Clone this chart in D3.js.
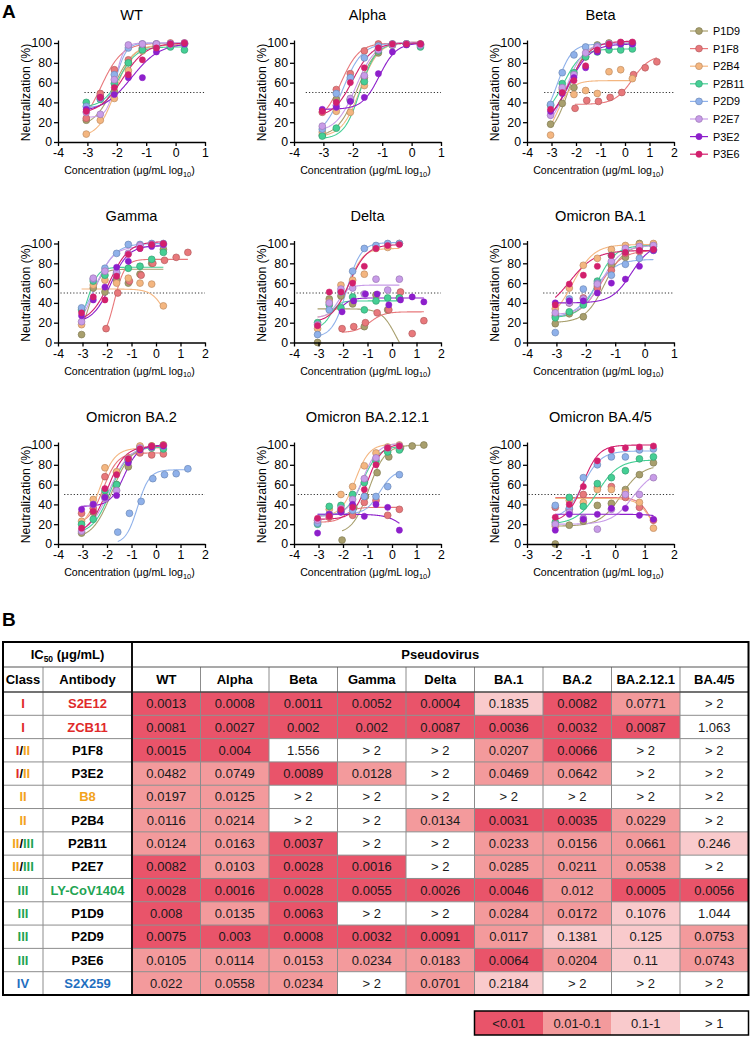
<!DOCTYPE html>
<html><head><meta charset="utf-8">
<script src="https://cdn.jsdelivr.net/npm/d3@7"></script>
<style>
body{margin:0;background:#fff;}
svg text{font-family:"Liberation Sans",Arial,Helvetica,sans-serif;}
</style></head><body>
<svg id="fig" width="750" height="1039"></svg>
<script>
// ---------------- DATA: panel A ----------------
const antibodies = ["P1D9","P1F8","P2B4","P2B11","P2D9","P2E7","P3E2","P3E6"];
const seriesColors = ["#a89f6d","#e8787b","#f4b680","#45cf95","#8fb1ea","#c89ce8","#8d1fcb","#d2206d"];
// log10 concentrations (3-fold dilutions from 2 and from 20 ug/mL)
const doseLow  = [-3.038,-2.561,-2.084,-1.607,-1.130,-0.653,-0.176,0.301];
const doseHigh = [-2.038,-1.561,-1.084,-0.607,-0.130,0.347,0.824,1.301];

const panelTitles = ["WT","Alpha","Beta","Gamma","Delta","Omicron BA.1","Omicron BA.2","Omicron BA.2.12.1","Omicron BA.4/5"];
const panelXMin = [-4,-4,-4,-4,-4,-4,-4,-4,-3];
const panelXMax = [1,1,2,2,2,1,2,2,2];
const refLineStart = [-3.1,-3.6,-3.3,-3.9,-3.9,-3.45,-3.75,-3.85,-2.95];

// which dilution series each antibody used in each panel (L = from 2 ug/mL, H = from 20 ug/mL)
const wtDose    = ["L","L","L","L","L","L","L","L"];
const alphaDose = ["L","L","L","L","L","L","L","L"];
const betaDose  = ["L","H","L","L","L","L","L","L"];
const gammaDose = ["L","H","L","L","L","L","L","L"];
const deltaDose = ["L","H","L","L","L","L","H","L"];
const ba1Dose   = ["L","L","L","L","L","L","L","L"];
const ba2Dose   = ["L","L","L","L","H","L","L","L"];
const ba2121Dose= ["H","L","L","L","L","L","L","L"];
const ba45Dose  = ["H","H","H","H","H","H","H","H"];

// neutralization (%) per antibody, in the order of `antibodies`
const wtNeut = [
 [22,46,51,80,94,97,97,99],[24,49,73,83,95,99,100,100],[8,22,44,72,92,97,98,99],[40,43,59,80,93,96,96,93],
 [36,44,68,95,99,99,99,99],[30,28,63,98,99,99,99,100],[33,45,48,65,65,91,99,99],[31,45,55,68,83,95,99,100]];
const alphaNeut = [
 [7,43,43,65,90,98,99,99],[30,53,69,92,99,99,99,99],[10,31,30,57,94,98,99,98],[6,14,42,61,92,98,99,96],
 [13,49,65,85,97,99,99,98],[16,37,44,67,93,98,99,98],[33,35,41,45,69,91,98,99],[31,40,60,75,95,99,99,99]];
const betaNeut = [
 [18,39,55,86,98,100,100,100],[34,42,41,45,50,68,75,81],[7,53,48,52,49,71,73,64],[37,59,70,86,91,93,93,94],
 [38,70,88,96,97,99,99,99],[27,55,68,90,96,99,100,100],[31,49,65,75,91,97,99,99],[33,50,62,77,93,99,101,101]];
const gammaNeut = [
 [8,55,51,63,60,69,80,94],[14,50,62,68,80,83,86,91],[18,58,63,60,65,60,59,37],[33,62,68,70,75,77,84,91],
 [35,64,75,90,99,99,100,100],[21,65,72,71,90,98,99,99],[27,43,56,76,82,95,97,99],[30,46,43,67,89,95,99,100]];
const deltaNeut = [
 [0,44,47,39,16,48,33,45],[14,16,20,30,33,51,9,22],[14,41,58,63,69,95,96,100],[20,38,35,46,33,42,45,45],
 [8,33,51,72,95,98,100,100],[18,40,54,55,49,64,53,64],[31,42,49,49,38,43,46,41],[17,51,51,60,77,95,98,99]];
const ba1Neut = [
 [19,29,26,57,78,86,100,99],[27,40,45,55,73,90,92,94],[34,55,78,85,94,98,99,100],[25,31,38,62,88,92,96,97],
 [10,44,54,60,68,79,85,93],[30,40,44,59,82,95,97,98],[40,42,42,50,60,64,77,93],[38,59,68,77,88,91,93,94]];
const ba2Neut = [
 [11,32,48,60,78,98,99,100],[31,36,68,72,85,92,90,91],[23,45,77,73,87,99,99,100],[20,25,54,60,85,96,97,96],
 [null,12,31,43,66,70,71,76],[13,40,46,54,86,97,98,99],[35,40,47,49,82,95,98,99],[16,33,56,70,86,96,99,100]];
const ba2121Neut = [
 [4,37,48,72,88,97,99,100],[24,27,33,29,42,44,29,35],[22,35,50,58,79,92,98,100],[20,38,39,50,62,84,93,95],
 [21,30,33,34,48,48,58,70],[24,30,36,45,66,87,97,99],[11,30,32,40,28,40,37,14],[26,28,35,37,55,80,97,99]];
const ba45Neut = [
 [0,19,23,39,41,55,70,82],[37,35,50,57,58,47,37,24],[18,44,42,55,55,52,42,16],[22,47,38,61,67,74,86,88],
 [39,36,67,80,88,88,95,96],[20,32,26,15,35,50,50,67],[14,30,25,30,36,36,29,25],[27,40,58,84,95,97,98,99]];

// fitted 4-parameter logistic curves: [bottom, top, logIC50, hill]
const wtFit = [[15,98,-2.1,1.3],[10,100,-2.55,1.2],[5,98,-2.05,1.5],[35,96,-1.9,1.5],[35,100,-2.0,2.5],[25,100,-2.05,3],[30,100,-1.5,0.9],[28,100,-1.8,1.1]];
const alphaFit = [[5,101,-1.85,1.3],[20,100,-2.4,1.4],[5,101,-1.75,1.4],[3,100,-1.75,1.6],[5,100,-2.35,1.3],[10,101,-1.9,1.3],[33,100,-1.1,1.5],[25,100,-2.0,1.3]];
const betaFit = [[5,100,-2.3,1.3],[38,88,0.3,1.2],[0,62,-2.75,1.5],[25,94,-2.5,1.2],[20,99,-2.75,1.5],[10,100,-2.4,1.2],[15,99,-2.3,1.0],[15,102,-2.3,1.0]];
const gammaFit = [[5,74,-2.7,2],[0,84,-1.7,2],[54,0,0.45,1.5],[10,76,-2.8,2],[15,100,-2.45,1.1],[10,97,-2.5,1.2],[20,98,-1.85,1.2],[20,102,-1.9,1.1]];
const deltaFit = [[34,-20,0.15,1.5],[10,31,-0.9,1.5],[25,95,-1.75,1.5],[15,42,-2.5,2.5],[5,101,-1.85,1.5],[25,58,-2.2,2],[25,45,-2.1,2],[20,99,-1.75,1.2]];
const ba1Fit = [[20,99,-1.35,1.3],[25,93,-1.5,1.2],[20,99,-2.45,1.2],[25,98,-1.6,1.4],[25,84,-1.7,1.2],[28,98,-1.45,1.3],[40,100,-0.45,1.3],[30,93,-2.55,1.0]];
const ba2Fit = [[5,100,-1.8,1.1],[20,92,-2.15,1.5],[15,97,-2.3,1.4],[10,98,-1.85,1.2],[0,75,-0.75,1.8],[10,99,-1.9,1.1],[38,100,-1.3,1.5],[10,99,-2.0,1.2]];
const ba2121Fit = [[10,100,-0.95,1.3],[22,37,-1.9,2],[28,101,-1.5,1.5],[28,99,-1.2,1.3],[30,75,-0.5,1.5],[28,102,-1.2,1.4],[30,0,0.6,1.2],[25,101,-1.0,1.5]];
const ba45Fit = [[18,80,0.2,1.2],[47,0,1.25,2],[46,0,1.25,1.8],[20,85,-0.6,1.2],[25,94,-1.1,1.4],[20,75,0.6,1.2],[30,0,2.2,1.5],[22,100,-1.1,1.6]];

// ---------------- DATA: panel B ----------------
const variants = ["WT","Alpha","Beta","Gamma","Delta","BA.1","BA.2","BA.2.12.1","BA.4/5"];
const tableClasses = ["I","I","I/II","I/II","II","II","II/III","II/III","III","III","III","III","IV"];
const tableAntibodies = ["S2E12","ZCB11","P1F8","P3E2","B8","P2B4","P2B11","P2E7","LY-CoV1404","P1D9","P2D9","P3E6","S2X259"];
const ic50 = [
 ["0.0013","0.0008","0.0011","0.0052","0.0004","0.1835","0.0082","0.0771","> 2"],
 ["0.0081","0.0027","0.002","0.002","0.0087","0.0036","0.0032","0.0087","1.063"],
 ["0.0015","0.004","1.556","> 2","> 2","0.0207","0.0066","> 2","> 2"],
 ["0.0482","0.0749","0.0089","0.0128","> 2","0.0469","0.0642","> 2","> 2"],
 ["0.0197","0.0125","> 2","> 2","> 2","> 2","> 2","> 2","> 2"],
 ["0.0116","0.0214","> 2","> 2","0.0134","0.0031","0.0035","0.0229","> 2"],
 ["0.0124","0.0163","0.0037","> 2","> 2","0.0233","0.0156","0.0661","0.246"],
 ["0.0082","0.0103","0.0028","0.0016","> 2","0.0285","0.0211","0.0538","> 2"],
 ["0.0028","0.0016","0.0028","0.0055","0.0026","0.0046","0.012","0.0005","0.0056"],
 ["0.008","0.0135","0.0063","> 2","> 2","0.0284","0.0172","0.1076","1.044"],
 ["0.0075","0.003","0.0008","0.0032","0.0091","0.0117","0.1381","0.125","0.0753"],
 ["0.0105","0.0114","0.0153","0.0234","0.0183","0.0064","0.0204","0.11","0.0743"],
 ["0.022","0.0558","0.0234","> 2","0.0701","0.2184","> 2","> 2","> 2"]];
const legendBins = ["<0.01","0.01-0.1","0.1-1","> 1"];
const binColors = ["#e9546a","#f39a9c","#f9cacc","#ffffff"];
const classColors = {"I":"#e02a2a","II":"#f2a31c","III":"#1fa453","IV":"#1f6fc0"};
const refAntibodyColors = {"S2E12":"#e02a2a","ZCB11":"#e02a2a","B8":"#f2a31c","LY-CoV1404":"#1fa453","S2X259":"#1f6fc0"};

// ---------------- DRAW ----------------
const svg = d3.select("#fig");
const panelDose = [wtDose,alphaDose,betaDose,gammaDose,deltaDose,ba1Dose,ba2Dose,ba2121Dose,ba45Dose];
const panelNeut = [wtNeut,alphaNeut,betaNeut,gammaNeut,deltaNeut,ba1Neut,ba2Neut,ba2121Neut,ba45Neut];
const panelFit  = [wtFit,alphaFit,betaFit,gammaFit,deltaFit,ba1Fit,ba2Fit,ba2121Fit,ba45Fit];

const colX = [58,294,527], rowY0 = [142,342.5,544];
const W = 147, H = 99;
const logistic = (p, xv) => p[0] + (p[1]-p[0])/(1+Math.pow(10,(p[2]-xv)*p[3]));
const defs = svg.append("defs");

svg.append("text").attr("x",2).attr("y",18).attr("font-size",19).attr("font-weight","bold").text("A");
svg.append("text").attr("x",2).attr("y",626).attr("font-size",19).attr("font-weight","bold").text("B");

panelTitles.forEach((title,i)=>{
  const c=i%3, r=Math.floor(i/3);
  const left=colX[c], y0=rowY0[r];
  const x=d3.scaleLinear().domain([panelXMin[i],panelXMax[i]]).range([left,left+W]);
  const y=d3.scaleLinear().domain([0,100]).range([y0,y0-H]);
  const g=svg.append("g");
  const cid="clip"+i;
  defs.append("clipPath").attr("id",cid).append("rect")
    .attr("x",left).attr("y",y(106)).attr("width",W+2).attr("height",y(0)-y(106)+0.5);

  // 50% reference line
  g.append("line").attr("x1",x(refLineStart[i])).attr("x2",x(panelXMax[i]))
    .attr("y1",y(50)).attr("y2",y(50)).attr("stroke","#333").attr("stroke-width",1)
    .attr("stroke-dasharray","1.2,2");

  const series = antibodies.map((ab,s)=>{
    const doses = panelDose[i][s]==="H"?doseHigh:doseLow;
    const pts = panelNeut[i][s].map((v,k)=>({x:doses[k],y:v})).filter(d=>d.y!==null);
    return {ab,s,pts,fit:panelFit[i][s],color:seriesColors[s]};
  });
  // fitted curves
  const line=d3.line().x(d=>x(d[0])).y(d=>y(d[1])).curve(d3.curveLinear);
  series.forEach(se=>{
    const x0=d3.min(se.pts,d=>d.x), x1=d3.max(se.pts,d=>d.x);
    const xs=x.copy().domain([x0,x1]).ticks(120);
    const curve=[x0,...xs.filter(v=>v>x0&&v<x1),x1].map(v=>[v,logistic(se.fit,v)]);
    g.append("path").datum(curve).attr("d",line).attr("fill","none")
      .attr("stroke",se.color).attr("stroke-width",1.1).attr("clip-path",`url(#${cid})`);
  });
  // points
  series.forEach(se=>{
    const solid = se.s>=6;
    g.selectAll(null).data(se.pts).join("circle")
      .attr("cx",d=>x(d.x)).attr("cy",d=>y(d.y)).attr("r",solid?3.1:3.4)
      .attr("fill",se.color)
      .attr("stroke",solid?se.color:d3.color(se.color).darker(0.7))
      .attr("stroke-width",solid?0.5:0.7);
  });

  // axes
  const yAx=d3.scaleLinear().domain([0,103]).range([y0,y0-H*1.03]);
  const xAxis=g.append("g").attr("transform",`translate(0,${y0})`)
    .call(d3.axisBottom(x).tickValues(d3.range(panelXMin[i],panelXMax[i]+1)).tickFormat(d=>String(d)).tickSize(4).tickSizeOuter(0).tickPadding(2.5));
  const yAxis=g.append("g").attr("transform",`translate(${left},0)`)
    .call(d3.axisLeft(yAx).tickValues([0,20,40,60,80,100]).tickSize(4).tickSizeOuter(0).tickPadding(2));
  [xAxis,yAxis].forEach(a=>{
    a.selectAll("path,line").attr("stroke","#000").attr("stroke-width",1.3);
    a.selectAll("text").attr("font-size",12.3).attr("fill","#000")
      .attr("font-family",'"Liberation Sans",Arial,sans-serif');
  });

  // titles & labels
  g.append("text").attr("x",left+W/2).attr("y",y0-H-23).attr("text-anchor","middle")
    .attr("font-size",14.6).text(title);
  g.append("text").attr("transform",`translate(${left-31},${y0-H/2}) rotate(-90)`)
    .attr("text-anchor","middle").attr("dominant-baseline","middle").attr("font-size",12.3).text("Neutralization (%)");
  const xl=g.append("text").attr("x",left+W/2-2).attr("y",y0+32).attr("text-anchor","middle").attr("font-size",10.6);
  xl.append("tspan").text("Concentration (μg/mL log");
  xl.append("tspan").attr("font-size",7.5).attr("dy",2.5).text("10");
  xl.append("tspan").attr("dy",-2.5).text(")");
});

// legend
const lg=svg.append("g");
antibodies.forEach((ab,s)=>{
  const ly=31+s*17.6;
  lg.append("line").attr("x1",690).attr("x2",708).attr("y1",ly).attr("y2",ly).attr("stroke",seriesColors[s]).attr("stroke-width",1.2);
  lg.append("circle").attr("cx",699).attr("cy",ly).attr("r",s>=6?3.1:3.4).attr("fill",seriesColors[s])
    .attr("stroke",s>=6?seriesColors[s]:d3.color(seriesColors[s]).darker(0.7)).attr("stroke-width",0.7);
  lg.append("text").attr("x",713).attr("y",ly+4).attr("font-size",10.8).text(ab);
});

// ---------------- TABLE ----------------
const T={left:3,right:748.5,top:642,h1:667,h2:692,bottom:995,c1:43,c2:132};
const colScale=d3.scaleBand().domain(variants).range([T.c2,T.right]);
const rowScale=d3.scaleBand().domain(tableAntibodies).range([T.h2,T.bottom]);
const tg=svg.append("g");
const binIndex=s=>{ if(s.trim().startsWith(">")) return 3; const v=+s; return v<0.01?0:v<0.1?1:v<=1?2:3; };

tableAntibodies.forEach((ab,r)=>{
  variants.forEach((vn,c)=>{
    tg.append("rect").attr("x",colScale(vn)).attr("y",rowScale(ab))
      .attr("width",colScale.bandwidth()).attr("height",rowScale.bandwidth())
      .attr("fill",binColors[binIndex(ic50[r][c])]);
  });
});
// grid
const grid="#8c8c8c";
rowScale.domain().slice(1).forEach(ab=>{
  tg.append("line").attr("x1",T.left).attr("x2",T.right).attr("y1",rowScale(ab)).attr("y2",rowScale(ab)).attr("stroke",grid).attr("stroke-width",1);
});
variants.slice(1).forEach(vn=>{
  tg.append("line").attr("x1",colScale(vn)).attr("x2",colScale(vn)).attr("y1",T.h1).attr("y2",T.bottom).attr("stroke",grid).attr("stroke-width",1);
});
tg.append("line").attr("x1",T.c1).attr("x2",T.c1).attr("y1",T.h1).attr("y2",T.bottom).attr("stroke",grid).attr("stroke-width",1);
tg.append("line").attr("x1",T.left).attr("x2",T.right).attr("y1",T.h1).attr("y2",T.h1).attr("stroke","#555").attr("stroke-width",1.2);
tg.append("line").attr("x1",T.left).attr("x2",T.right).attr("y1",T.h2).attr("y2",T.h2).attr("stroke","#444").attr("stroke-width",1.4);
tg.append("line").attr("x1",T.c2).attr("x2",T.c2).attr("y1",T.top).attr("y2",T.bottom).attr("stroke","#111").attr("stroke-width",2);
tg.append("rect").attr("x",T.left).attr("y",T.top).attr("width",T.right-T.left).attr("height",T.bottom-T.top)
  .attr("fill","none").attr("stroke","#000").attr("stroke-width",2);

// header texts
const hdr=tg.append("text").attr("x",(T.left+T.c2)/2).attr("y",(T.top+T.h1)/2+4.5).attr("text-anchor","middle").attr("font-size",13).attr("font-weight","bold");
hdr.append("tspan").text("IC");
hdr.append("tspan").attr("font-size",8.5).attr("dy",3).text("50");
hdr.append("tspan").attr("dy",-3).text(" (μg/mL)");
tg.append("text").attr("x",(T.c2+T.right)/2).attr("y",(T.top+T.h1)/2+4.5).attr("text-anchor","middle").attr("font-size",13).attr("font-weight","bold").text("Pseudovirus");
const hy=(T.h1+T.h2)/2+4.5;
tg.append("text").attr("x",(T.left+T.c1)/2).attr("y",hy).attr("text-anchor","middle").attr("font-size",13).attr("font-weight","bold").text("Class");
tg.append("text").attr("x",(T.c1+T.c2)/2).attr("y",hy).attr("text-anchor","middle").attr("font-size",13).attr("font-weight","bold").text("Antibody");
variants.forEach(vn=>{
  tg.append("text").attr("x",colScale(vn)+colScale.bandwidth()/2).attr("y",hy).attr("text-anchor","middle")
    .attr("font-size",13).attr("font-weight","bold").text(vn);
});
// body texts
tableAntibodies.forEach((ab,r)=>{
  const cy=rowScale(ab)+rowScale.bandwidth()/2+4.6;
  const ct=tg.append("text").attr("x",(T.left+T.c1)/2).attr("y",cy).attr("text-anchor","middle").attr("font-size",13).attr("font-weight","bold");
  tableClasses[r].split("/").forEach((part,k)=>{
    if(k>0) ct.append("tspan").attr("fill","#000").text("/");
    ct.append("tspan").attr("fill",classColors[part]).text(part);
  });
  tg.append("text").attr("x",(T.c1+T.c2)/2).attr("y",cy).attr("text-anchor","middle").attr("font-size",13).attr("font-weight","bold")
    .attr("fill",refAntibodyColors[ab]||"#000").text(ab);
  variants.forEach((vn,c)=>{
    tg.append("text").attr("x",colScale(vn)+colScale.bandwidth()/2).attr("y",cy).attr("text-anchor","middle")
      .attr("font-size",13).attr("fill","#1a1a1a").text(ic50[r][c]);
  });
});

// colour legend
const legScale=d3.scaleBand().domain(legendBins).range([colScale("BA.1"),T.right]);
const legY=1011, legH=24;
legendBins.forEach((b,k)=>{
  tg.append("rect").attr("x",legScale(b)).attr("y",legY).attr("width",legScale.bandwidth()).attr("height",legH).attr("fill",binColors[k]);
  tg.append("text").attr("x",legScale(b)+legScale.bandwidth()/2).attr("y",legY+legH/2+4.6).attr("text-anchor","middle").attr("font-size",13).attr("fill","#1a1a1a").text(b);
});
tg.append("rect").attr("x",legScale.range()[0]).attr("y",legY).attr("width",T.right-legScale.range()[0]).attr("height",legH)
  .attr("fill","none").attr("stroke","#000").attr("stroke-width",1.5);
</script>
</body></html>
